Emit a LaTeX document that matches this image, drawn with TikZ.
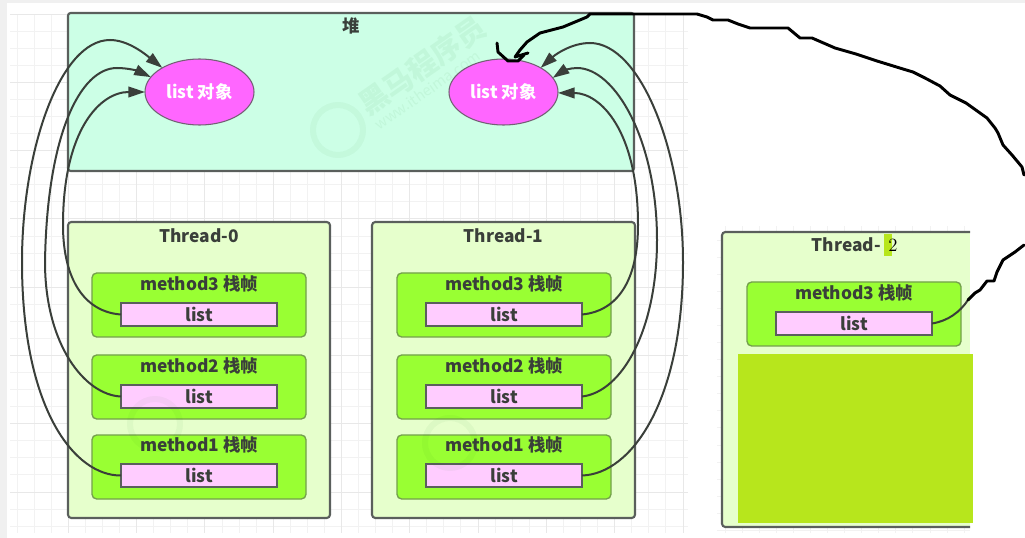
\documentclass[tikz,border=0pt]{standalone}
\usepackage{fontspec}
\newfontfamily\cjk{Noto Sans CJK SC}
\usetikzlibrary{arrows.meta,shapes.geometric}
\definecolor{heapfill}{HTML}{CCFFE6}
\definecolor{threadfill}{HTML}{E6FFCC}
\definecolor{framefill}{HTML}{99FF33}
\definecolor{listfill}{HTML}{FFCCFF}
\definecolor{objfill}{HTML}{FF66FF}
\definecolor{olive}{HTML}{B7E61C}
\definecolor{edge}{HTML}{5A5F5C}
\definecolor{ink}{HTML}{3A3F3A}
\tikzset{
  box/.style 2 args={rectangle,minimum width=#1*0.75pt,minimum height=#2*0.75pt,inner sep=0pt,outer sep=0pt},
  heapbox/.style={draw=edge,line width=1.6pt,fill=heapfill,rounded corners=2pt},
  threadbox/.style={draw=edge,line width=1.6pt,fill=threadfill,rounded corners=2.5pt},
  framebox/.style={draw=edge!60!framefill,line width=1pt,fill=framefill,rounded corners=3.5pt},
  listbox/.style={draw=edge,line width=1pt,fill=listfill,font=\cjk\bfseries\fontsize{13}{15}\selectfont,text=ink},
  objbox/.style={ellipse,draw=edge!85!objfill,line width=.8pt,fill=objfill,minimum width=109*0.75pt,minimum height=66*0.75pt,inner sep=0pt,outer sep=0pt,font=\cjk\bfseries\fontsize{13}{15}\selectfont,text=white},
  titletext/.style={inner sep=0pt,font=\cjk\bfseries\fontsize{13}{15}\selectfont,text=ink},
  ref/.style={draw=ink,line width=1.5pt,-{Triangle[length=12.5pt,width=8pt,fill=ink]}},
  refplain/.style={draw=ink,line width=1.5pt},
  pen/.style={draw=black,line width=2.2pt,line join=round,line cap=round},
  minorgrid/.style={draw=black!5,line width=.6pt},
  majorgrid/.style={draw=black!9,line width=.7pt},
  wmtext/.style={inner sep=0pt,text=green!40!black,opacity=.05},
  wmring/.style={draw=green!40!black,line width=4.5pt,opacity=.04},
}
\newcommand{\stackcol}[2]{% prefix, frame centre x
  \node[box={214}{64},framebox] (#1f3) at (#2,305) {};
  \node[box={214}{64},framebox] (#1f2) at (#2,387) {};
  \node[box={214}{64},framebox] (#1f1) at (#2,467) {};
  \node[titletext] (#1t3) at (#2,284) {method3 栈帧};
  \node[titletext] (#1t2) at (#2,366) {method2 栈帧};
  \node[titletext] (#1t1) at (#2,445) {method1 栈帧};
  \node[box={156}{23},listbox] (#1l3) at (#2,314.5) {list};
  \node[box={156}{23},listbox] (#1l2) at (#2,396.5) {list};
  \node[box={156}{23},listbox] (#1l1) at (#2,475.5) {list};
}
\begin{document}
\begin{tikzpicture}[x=0.75pt,y=-0.75pt]
\useasboundingbox (0,0) rectangle (1025,538);
\fill[black!6] (0,0) rectangle (7,538);
\fill[black!6] (0,0) rectangle (1025,3);
% grid
\foreach \k in {1,...,39} {\draw[minorgrid] ({17.07*\k+0},14) -- ({17.07*\k+0},533);}
\foreach \k in {0,...,30} {\draw[minorgrid] (10,{14+17.07*\k}) -- (688,{14+17.07*\k});}
\foreach \k in {1,...,10} {\draw[majorgrid] ({68.3*\k},14) -- ({68.3*\k},533);}
\foreach \k in {0,...,7} {\draw[majorgrid] (10,{14+68.3*\k}) -- (688,{14+68.3*\k});}
\begin{scope}
  \clip (717,226) rectangle (970,533);
  \foreach \k in {0,...,15} {\draw[minorgrid] ({708+17.07*\k},226) -- ({708+17.07*\k},533);}
  \foreach \k in {0,...,18} {\draw[minorgrid] (717,{223+17.07*\k}) -- (970,{223+17.07*\k});}
\end{scope}
% panels
\node[box={566}{158},heapbox] (heap) at (351,92) {};
\node[titletext,anchor=center] (heapt) at (351,26) {堆};
\node[box={262}{296},threadbox] (th0) at (199,370) {};
\node[box={263}{296},threadbox] (th1) at (503.5,370) {};
\node[titletext] (th0t) at (199,236) {Thread-0};
\node[titletext] (th1t) at (503.5,236) {Thread-1};
\node[box={248}{295},fill=threadfill] (th2) at (846,379.5) {};
\draw[edge,line width=1.6pt,rounded corners=2.5pt] (970,232) -- (722,232) -- (722,527) -- (970,527);
% watermark of the heap panel
\draw[wmring] (338,130) circle[radius=25];
\node[wmtext,rotate=35,anchor=west,font=\cjk\bfseries\fontsize{22}{24}\selectfont] (wma) at (362,108) {黑马程序员};
\node[wmtext,rotate=35,anchor=west,font=\cjk\fontsize{11}{12}\selectfont] (wmb) at (376,126) {www.itheima.com};
% objects
\node[objbox] (oa) at (199.5,92) {list 对象};
\node[objbox] (ob) at (503.5,92) {list 对象};
% frames
\stackcol{a}{199}
\stackcol{b}{504}
\node[box={214}{64},framebox] (cf3) at (854,314) {};
\node[titletext] (ct3) at (854,293) {method3 栈帧};
\node[box={156}{23},listbox] (cl3) at (854,323.5) {list};
% Thread-2 title and overlays
\node[titletext,anchor=east] (th2t) at (881,245) {Thread-};
\node[box={8}{22},fill=olive] (patch) at (888,245) {};
\node[inner sep=0pt,font=\fontsize{14}{16}\selectfont] (two) at (893,245) {2};
\node[box={235}{169},fill=olive] (cover) at (855.5,438.5) {};
% faint watermark rings over the stacks
\draw[wmring] (155,424) circle[radius=25];
\draw[wmring] (450,443) circle[radius=25];
% references, left group
\draw[ref] (al1.west) .. controls (75,476) and (22,410) .. (22,262) .. controls (22,150) and (60,40) .. (110,40) .. controls (128,40) and (145,54) .. (oa.147);
\draw[ref] (al2.west) .. controls (85,395) and (45,345) .. (45,262) .. controls (47,135) and (80,68) .. (117,68) .. controls (128,68) and (138,71) .. (oa.163);
\draw[ref] (al3.west) .. controls (85,312) and (63,280) .. (63,225) .. controls (63,130) and (100,92) .. (oa.180);
% references, right group
\draw[ref] (bl1.east) .. controls (632,474) and (683,400) .. (683,262) .. controls (683,150) and (640,43) .. (590,43) .. controls (572,43) and (556,54) .. (ob.33);
\draw[ref] (bl2.east) .. controls (622,392) and (657,330) .. (657,240) .. controls (657,140) and (615,68) .. (577,68) .. controls (570,68) and (563,71) .. (ob.16);
\draw[ref] (bl3.east) .. controls (618,311) and (638,280) .. (638,225) .. controls (638,130) and (600,93) .. (ob.359);
% hand-drawn pen stroke
\coordinate (penend) at (968,300);
\draw[refplain] (cl3.east) .. controls (948,321) and (960,312) .. (penend);
\draw[pen] (penend) -- (975,293) -- (980,290) -- (987,281) -- (994,281) -- (997,272) -- (1003,260) -- (1015,252) -- (1024,245);
\draw[pen] (1024,175) -- (1022,167) -- (1012,155) -- (1003,145) -- (998,133) -- (995,128) -- (987,118) -- (980,113) -- (966,103) -- (950,95) -- (940,86) -- (925,78) -- (913,72) -- (903,69) -- (890,65) -- (877,61) -- (856,54) -- (835,48) -- (812,38) -- (800,38) -- (788,28) -- (750,28) -- (738,24) -- (728,20) -- (713,20) -- (707,17) -- (697,14) -- (590,14) -- (587,17) -- (563,27) -- (540,33) -- (527,42) -- (520,50) -- (515,57) -- (528,53);
\draw[pen] (497,43) -- (498,52) -- (508,61) -- (518,61) -- (524,55);
\end{tikzpicture}
\end{document}
